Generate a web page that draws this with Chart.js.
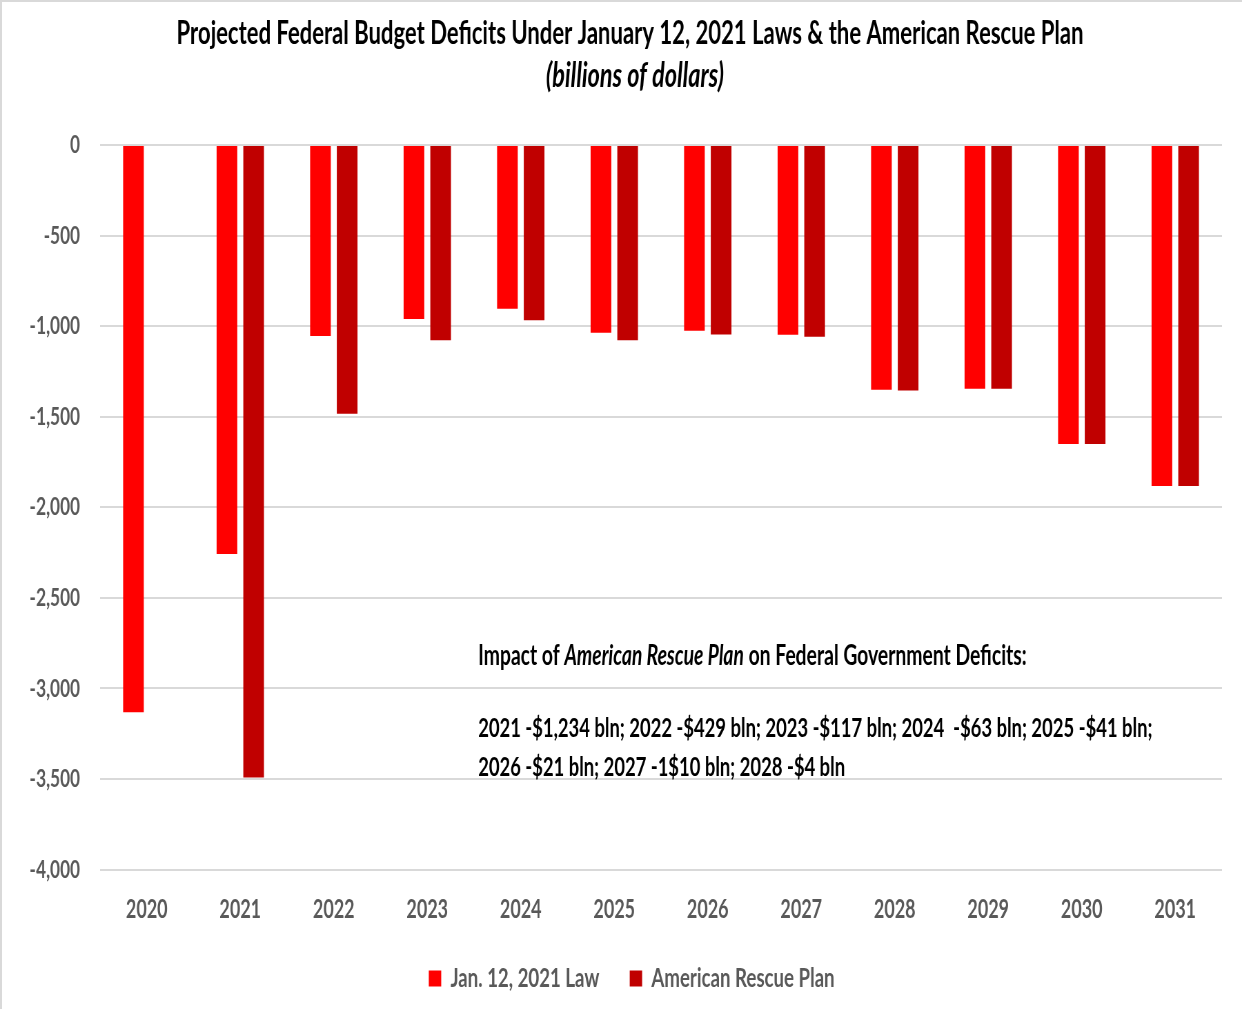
<!DOCTYPE html>
<html>
<head>
<meta charset="utf-8">
<title>Projected Federal Budget Deficits</title>
<script src="https://cdn.jsdelivr.net/npm/chart.js@4.4.1/dist/chart.umd.min.js"></script>
<style>
  html, body { margin: 0; padding: 0; background: #fff; overflow: hidden; }
  #frame { position: relative; width: 1242px; height: 1009px; overflow: hidden; }
  /* chart is laid out wide, then narrowed so the lettering comes out condensed */
  #wrap { width: 1800px; height: 1009px; transform: scaleX(0.69); transform-origin: 0 0; }
  #frame::after {
    content: ""; position: absolute; left: 0; top: 0; right: 0; bottom: 0;
    border-left: 2px solid #d9d9d9; border-top: 2px solid #d9d9d9; pointer-events: none;
  }
</style>
</head>
<body>
<div id="frame"><div id="wrap"><canvas id="deficitChart"></canvas></div></div>
<script>
const years = ["2020", "2021", "2022", "2023", "2024", "2025", "2026", "2027", "2028", "2029", "2030", "2031"];
const janLawDeficits = [-3132, -2258, -1054, -961, -904, -1037, -1025, -1048, -1351, -1345, -1650, -1882];
const rescuePlanDeficits = [null, -3492, -1484, -1078, -967, -1078, -1046, -1058, -1355, -1346, -1650, -1882];
const yMin = -4000;
const yMax = 0;
const yStep = 500;

const titleText = "Projected Federal Budget Deficits Under January 12, 2021 Laws & the American Rescue Plan";
const subtitleText = "(billions of dollars)";
const impactLines = [
  [["Impact of ", false], ["American Rescue Plan", true], [" on Federal Government Deficits:", false]],
  [["2021 -$1,234 bln; 2022 -$429 bln; 2023 -$117 bln; 2024  -$63 bln; 2025 -$41 bln;", false]],
  [["2026 -$21 bln; 2027 -1$10 bln; 2028 -$4 bln", false]],
];

const FONT = "Lato, 'Open Sans', sans-serif";
const GREY = "#595959";

// Two-line heading, centred a little right of the canvas middle
const heading = {
  id: "heading",
  afterDraw(chart) {
    const { ctx, width } = chart;
    ctx.save();
    ctx.fillStyle = "#000";
    ctx.textAlign = "center";
    ctx.textBaseline = "alphabetic";
    ctx.font = "bold 32px " + FONT;
    ctx.fillText(titleText, width * (630 / 1242), 44);
    ctx.font = "italic bold 34px " + FONT;
    ctx.fillText(subtitleText, width * (635 / 1242), 87);
    ctx.restore();
  },
};

// Free text block inside the plot
const impactNote = {
  id: "impactNote",
  afterDatasetsDraw(chart) {
    const { ctx, chartArea } = chart;
    const x0 = chartArea.left + (chartArea.right - chartArea.left) * 0.337;
    const offsets = [520, 592, 631];
    const sizes = [28, 26.7, 26.7];
    ctx.save();
    ctx.fillStyle = "#000";
    ctx.textBaseline = "alphabetic";
    impactLines.forEach((parts, i) => {
      let x = x0;
      const y = chartArea.top + offsets[i];
      parts.forEach(([text, italic]) => {
        ctx.font = (italic ? "italic " : "") + "bold " + sizes[i] + "px " + FONT;
        ctx.fillText(text, x, y);
        x += ctx.measureText(text).width;
      });
    });
    ctx.restore();
  },
};

// Nudge the legend row right without touching the plot area
const legendNudge = {
  id: "legendNudge",
  afterLayout(chart) {
    chart.legend.left += 13;
    chart.legend.right += 13;
  },
};

const ctx = document.getElementById("deficitChart").getContext("2d");

new Chart(ctx, {
  type: "bar",
  data: {
    labels: years,
    datasets: [
      {
        label: "Jan. 12, 2021 Law",
        data: janLawDeficits,
        backgroundColor: "#ff0000",
        borderWidth: 0,
      },
      {
        label: "American Rescue Plan",
        data: rescuePlanDeficits,
        backgroundColor: "#c00000",
        borderWidth: 0,
      },
    ],
  },
  options: {
    responsive: true,
    maintainAspectRatio: false,
    animation: false,
    layout: { padding: { left: 34, right: 29, top: 145, bottom: 7 } },
    datasets: {
      bar: { categoryPercentage: 0.571, barPercentage: 0.775 },
    },
    scales: {
      x: {
        // hidden tick marks still reserve the gap above the year labels
        grid: { display: false, drawTicks: true, tickLength: 28 },
        border: { display: false },
        ticks: {
          color: GREY,
          padding: 0,
          font: { family: FONT, size: 26, weight: "bold", lineHeight: 0.9 },
        },
      },
      y: {
        min: yMin,
        max: yMax,
        border: { display: false },
        grid: { color: "#d9d9d9", lineWidth: 2, drawTicks: false },
        ticks: {
          stepSize: yStep,
          color: GREY,
          padding: 29,
          font: { family: FONT, size: 25, weight: "bold" },
        },
        afterFit(scale) {
          scale.width = 111;
        },
      },
    },
    plugins: {
      title: { display: false },
      legend: {
        position: "bottom",
        labels: {
          color: GREY,
          boxWidth: 18,
          boxHeight: 16,
          padding: 44,
          font: { family: FONT, size: 27, weight: "bold" },
        },
      },
      tooltip: { enabled: false },
    },
  },
  plugins: [heading, impactNote, legendNudge],
});
</script>
</body>
</html>
